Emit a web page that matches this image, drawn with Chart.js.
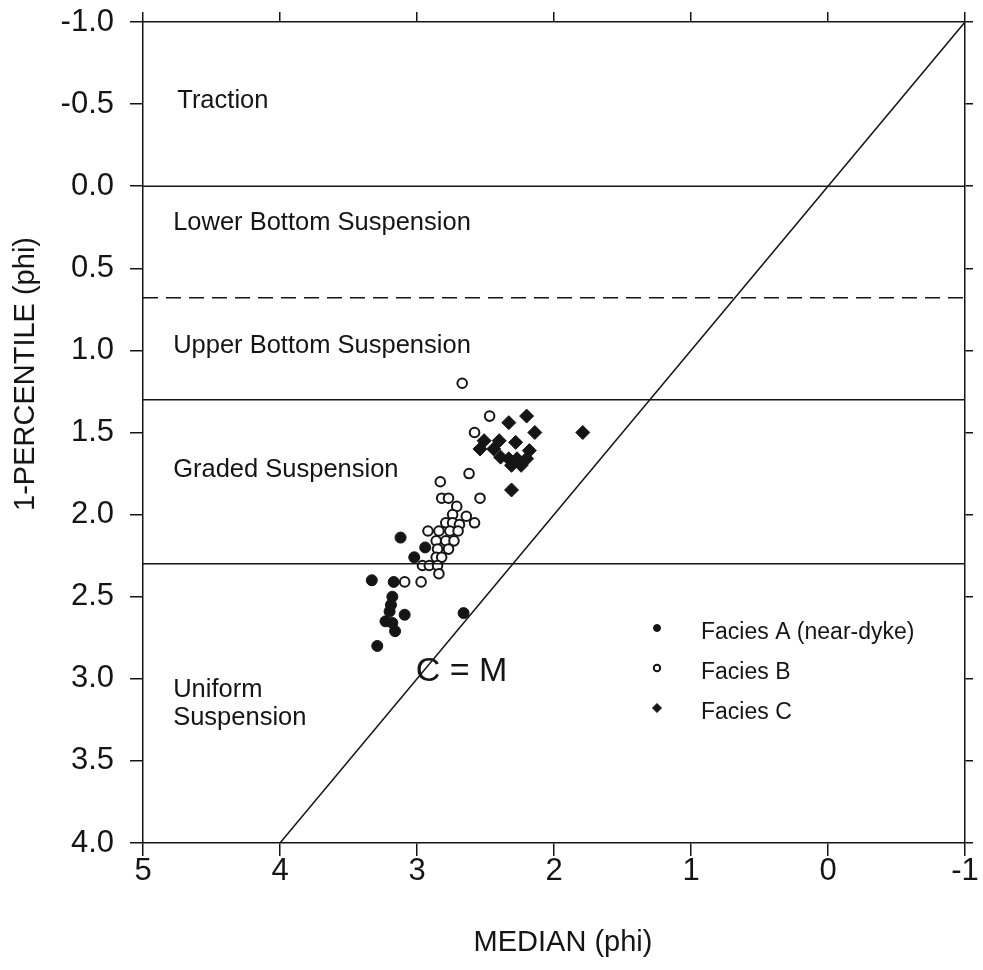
<!DOCTYPE html>
<html>
<head>
<meta charset="utf-8">
<script src="https://cdn.jsdelivr.net/npm/chart.js@4.4.1/dist/chart.umd.min.js"></script>
<style>
  html, body { margin: 0; padding: 0; background: #ffffff; }
  #wrap { width: 983px; height: 970px; position: relative; }
</style>
</head>
<body>
<div id="wrap"><canvas id="c" width="983" height="970"></canvas></div>
<script>
// Median grain size vs. 1-percentile (C-M diagram), values in phi units
const faciesA_median = [3.33, 3.17, 3.18, 3.19, 3.20, 3.09, 3.23, 3.18, 3.16, 2.66, 3.29, 3.12, 2.94, 3.02];
const faciesA_p1     = [2.40, 2.41, 2.50, 2.55, 2.59, 2.61, 2.65, 2.66, 2.71, 2.60, 2.80, 2.14, 2.20, 2.26];

const faciesB_median = [2.62, 2.83, 2.82, 2.77, 2.54, 2.71, 2.74, 2.64, 2.58, 2.79, 2.74, 2.69, 2.92, 2.84, 2.76, 2.70,
                        2.86, 2.79, 2.73, 2.85, 2.77, 2.86, 2.82, 2.96, 2.91, 2.85, 2.84, 3.09, 2.97, 2.47, 2.58, 2.67];
const faciesB_p1     = [1.75, 1.80, 1.90, 1.90, 1.90, 1.95, 2.00, 2.01, 2.05, 2.05, 2.05, 2.06, 2.10, 2.10, 2.10, 2.10,
                        2.16, 2.16, 2.16, 2.21, 2.21, 2.26, 2.26, 2.31, 2.31, 2.31, 2.36, 2.41, 2.41, 1.40, 1.50, 1.20];

const faciesC_median = [2.20, 2.33, 2.14, 1.79, 2.28, 2.51, 2.40, 2.54, 2.44, 2.18, 2.39, 2.33, 2.27, 2.20, 2.31, 2.24, 2.31];
const faciesC_p1     = [1.40, 1.44, 1.50, 1.50, 1.56, 1.55, 1.55, 1.60, 1.60, 1.61, 1.65, 1.66, 1.66, 1.66, 1.70, 1.70, 1.85];

// Transport-mode boundaries (1-percentile, phi)
const solidBoundaries = [0.0, 1.3, 2.3];
const dashedBoundary  = 0.68;
// C = M reference line end points
const cmLine = [4, -1];

const xTickRange = [-1, 5];
const yTickRange = [-1, 4];

const seriesNames = ['Facies A (near-dyke)', 'Facies B', 'Facies C'];

// Region names, placed in data units (median, 1-percentile at text baseline)
const regionLabels = [
  { text: 'Traction',                 x: 4.75,  y: -0.476 },
  { text: 'Lower Bottom Suspension',  x: 4.78,  y: 0.267 },
  { text: 'Upper Bottom Suspension',  x: 4.78,  y: 1.016 },
  { text: 'Graded Suspension',        x: 4.78,  y: 1.771 },
  { text: 'Uniform',                  x: 4.78,  y: 3.111 },
  { text: 'Suspension',               x: 4.78,  y: 3.281 }
];
const cmLabel = { text: 'C = M', x: 3.01, y: 3.013 };

const INK = '#151515';
const FONT = '"Liberation Sans", Arial, Helvetica, sans-serif';

const toPoints = (xs, ys) => xs.map((v, i) => ({ x: v, y: ys[i] }));

const lineDatasets = [];
solidBoundaries.forEach(v => {
  lineDatasets.push({
    type: 'line', data: [{ x: xTickRange[1], y: v }, { x: xTickRange[0], y: v }],
    borderColor: INK, borderWidth: 1.5, pointRadius: 0, fill: false
  });
});
lineDatasets.push({
  type: 'line', data: [{ x: xTickRange[1], y: dashedBoundary }, { x: xTickRange[0], y: dashedBoundary }],
  borderColor: INK, borderWidth: 1.5, borderDash: [15, 8], pointRadius: 0, fill: false
});
lineDatasets.push({
  type: 'line', data: [{ x: cmLine[0], y: cmLine[0] }, { x: cmLine[1], y: cmLine[1] }],
  borderColor: INK, borderWidth: 1.5, pointRadius: 0, fill: false
});

const seriesDatasets = [
  { label: seriesNames[0], data: toPoints(faciesA_median, faciesA_p1), pointStyle: 'circle',
    pointRadius: 5.5, backgroundColor: INK, borderColor: INK, borderWidth: 1, legendRadius: 3.5 },
  { label: seriesNames[1], data: toPoints(faciesB_median, faciesB_p1), pointStyle: 'circle',
    pointRadius: 4.8, backgroundColor: '#ffffff', borderColor: INK, borderWidth: 2, legendRadius: 3.2 },
  { label: seriesNames[2], data: toPoints(faciesC_median, faciesC_p1), pointStyle: 'rectRot',
    pointRadius: 7, backgroundColor: INK, borderColor: INK, borderWidth: 1, legendRadius: 4.5 }
];

// Text inside the plot: region names, C = M, legend, axis titles
const annotate = {
  id: 'annotate',
  afterDatasetsDraw(chart) {
    const { ctx, scales } = chart;
    const sx = scales.x, sy = scales.y;
    ctx.save();
    ctx.fillStyle = INK;
    ctx.textAlign = 'left';
    ctx.textBaseline = 'alphabetic';
    ctx.font = '25.5px ' + FONT;
    regionLabels.forEach(l => ctx.fillText(l.text, sx.getPixelForValue(l.x), sy.getPixelForValue(l.y)));
    ctx.font = '34px ' + FONT;
    ctx.fillText(cmLabel.text, sx.getPixelForValue(cmLabel.x), sy.getPixelForValue(cmLabel.y));

    // legend
    const lx = 657, ly0 = 628, gap = 40;
    ctx.font = '23px ' + FONT;
    seriesDatasets.forEach((d, i) => {
      const y = ly0 + i * gap;
      ctx.fillStyle = d.backgroundColor;
      ctx.strokeStyle = d.borderColor;
      ctx.lineWidth = d.borderWidth;
      Chart.helpers.drawPoint(ctx, { pointStyle: d.pointStyle, radius: d.legendRadius, rotation: 0, borderWidth: d.borderWidth }, lx, y);
      ctx.fillStyle = INK;
      ctx.textBaseline = 'middle';
      ctx.fillText(d.label, 701, y + 5);
    });

    // axis titles
    ctx.textAlign = 'center';
    ctx.textBaseline = 'middle';
    ctx.font = '29px ' + FONT;
    ctx.fillText('MEDIAN (phi)', 563, 943);
    ctx.save();
    ctx.translate(26, 374);
    ctx.rotate(-Math.PI / 2);
    ctx.fillText('1-PERCENTILE (phi)', 0, 0);
    ctx.restore();
    ctx.restore();
  }
};

const axisCommon = {
  type: 'linear',
  border: { display: true, color: INK, width: 1.5 },
  grid: { drawOnChartArea: false, drawTicks: true, tickLength: 13, color: INK, lineWidth: 1.5 }
};

// keep the plot frame fixed, without extra room for overhanging tick labels
function noOverhang(s) {
  s.paddingTop = 0; s.paddingBottom = 0; s.paddingLeft = 0; s.paddingRight = 0;
}

new Chart(document.getElementById('c'), {
  type: 'scatter',
  data: { datasets: [...lineDatasets, ...seriesDatasets] },
  options: {
    responsive: false,
    animation: false,
    events: [],
    layout: { padding: 0 },
    plugins: { legend: { display: false }, tooltip: { enabled: false } },
    scales: {
      x: { ...axisCommon, position: 'bottom', reverse: true, min: xTickRange[0], max: xTickRange[1],
           ticks: { stepSize: 1, color: INK, font: { family: FONT, size: 31 }, padding: -3, maxRotation: 0 },
           afterFit(s) { s.height = 127; noOverhang(s); } },
      x2: { ...axisCommon, axis: 'x', position: 'top', reverse: true, min: xTickRange[0], max: xTickRange[1],
            grid: { ...axisCommon.grid, tickLength: 10 },
            ticks: { stepSize: 1, display: false },
            afterFit(s) { s.height = 22; noOverhang(s); } },
      y: { ...axisCommon, position: 'left', reverse: true, min: yTickRange[0], max: yTickRange[1],
           ticks: { stepSize: 0.5, color: INK, font: { family: FONT, size: 31 }, padding: 16,
                    callback: v => v.toFixed(1) },
           afterFit(s) { s.width = 143; noOverhang(s); } },
      y2: { ...axisCommon, axis: 'y', position: 'right', reverse: true, min: yTickRange[0], max: yTickRange[1],
            grid: { ...axisCommon.grid, tickLength: 8 },
            ticks: { stepSize: 0.5, display: false },
            afterFit(s) { s.width = 18; noOverhang(s); } }
    }
  },
  plugins: [annotate]
});
</script>
</body>
</html>
